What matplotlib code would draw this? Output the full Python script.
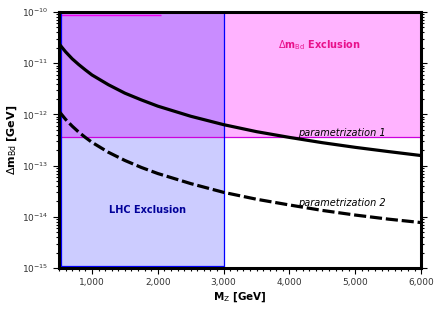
import matplotlib

matplotlib.use("Agg")
import matplotlib.pyplot as plt
from matplotlib.ticker import FuncFormatter, LogLocator, MultipleLocator

# Z' mass grid [GeV] and the two Delta m_Bd curves
mz = [500, 600, 700, 800, 900, 1000, 1250, 1500, 1750, 2000, 2500, 3000,
      3500, 4000, 4500, 5000, 5500, 6000]
param1 = [2.4e-11, 1.67e-11, 1.22e-11, 9.4e-12, 7.4e-12, 5.9e-12, 3.8e-12,
          2.6e-12, 1.92e-12, 1.45e-12, 9.2e-13, 6.3e-13, 4.6e-13, 3.55e-13,
          2.8e-13, 2.27e-13, 1.88e-13, 1.57e-13]
param2 = [1.15e-12, 8.0e-13, 5.9e-13, 4.5e-13, 3.55e-13, 2.85e-13, 1.82e-13,
          1.26e-13, 9.2e-14, 7.0e-14, 4.45e-14, 3.0e-14, 2.2e-14, 1.7e-14,
          1.33e-14, 1.08e-14, 9.0e-15, 7.7e-15]

# exclusion regions
x_range = [500, 6000]
y_range = [1e-15, 1e-10]
lhc_limit = 3000          # M_Z below this excluded by LHC
dmbd_limit = 3.6e-13      # Delta m_Bd above this excluded

fig = plt.figure(figsize=(4.39, 3.16), dpi=100)
ax = fig.add_axes([0.1344, 0.152, 0.825, 0.81])
ax.set_yscale("log")
ax.set_xlim(*x_range)
ax.set_ylim(*y_range)

pink, lhc_blue, overlap = "#ffb3ff", "#ccccff", "#c98cff"
ax.fill_between(x_range, dmbd_limit, y_range[1], color=pink, lw=0, zorder=1)
ax.fill_between([x_range[0], lhc_limit], y_range[0], y_range[1], color=lhc_blue, lw=0, zorder=1)
ax.fill_between([x_range[0], lhc_limit], dmbd_limit, y_range[1], color=overlap, lw=0, zorder=1)
ax.hlines(dmbd_limit, *x_range, color="#cc00dd", lw=0.9, zorder=2)
ax.hlines(y_range[1] * 0.88, x_range[0], 2050, color="#ee00ee", lw=1.0, zorder=2)
ax.vlines(lhc_limit, *y_range, color="#0000ff", lw=0.9, zorder=2)
ax.vlines(x_range[0] + 25, *y_range, color="#0000ff", lw=0.9, zorder=2)
ax.hlines(y_range[0] * 1.08, x_range[0], lhc_limit, color="#0000ff", lw=0.9, zorder=2)

ax.plot(mz, param1, color="black", lw=2.3, zorder=3)
ax.plot(mz, param2, color="black", lw=2.3, ls=(0, (3.8, 1.2)), zorder=3)

ax.text(4450, 2.3e-11, r"$\Delta$m$_{\mathrm{Bd}}$ Exclusion", color="#e8108a",
        fontsize=7, fontweight="bold", ha="center", va="center")
ax.text(1850, 1.35e-14, "LHC Exclusion", color="#000099",
        fontsize=7, fontweight="bold", ha="center", va="center")
ax.text(4800, 4.4e-13, "parametrization 1", fontsize=7, style="italic",
        ha="center", va="center")
ax.text(4800, 1.9e-14, "parametrization 2", fontsize=7, style="italic",
        ha="center", va="center")

ax.set_xlabel(r"M$_{\mathrm{Z}}$ [GeV]", fontsize=7.5, fontweight="bold", labelpad=2)
ax.set_ylabel(r"$\Delta$m$_{\mathrm{Bd}}$ [GeV]", fontsize=8, fontweight="bold", labelpad=2)

ax.xaxis.set_major_locator(MultipleLocator(1000))
ax.xaxis.set_minor_locator(MultipleLocator(100))
ax.xaxis.set_major_formatter(FuncFormatter(lambda v, _: f"{int(v):,}"))
ax.yaxis.set_major_locator(LogLocator(base=10, numticks=10))
ax.yaxis.set_minor_locator(LogLocator(base=10, subs=range(2, 10), numticks=20))

ax.tick_params(axis="both", which="both", direction="out", labelsize=6.5,
               labelcolor="#333333", width=0.8)
ax.tick_params(axis="both", which="major", length=4)
ax.tick_params(axis="both", which="minor", length=2.2)
ax.tick_params(axis="y", which="both", right=True)
for side in ax.spines.values():
    side.set_linewidth(2.2)
    side.set_zorder(5)

fig.savefig("out.png", dpi=100)
